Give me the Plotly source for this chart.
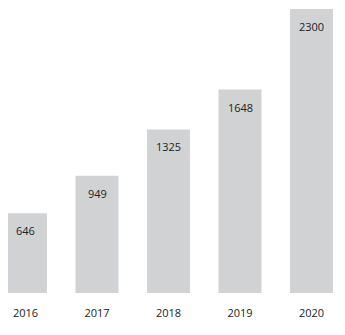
import plotly.graph_objects as go

years = ["2016", "2017", "2018", "2019", "2020"]
values = [646, 949, 1325, 1648, 2300]

fig = go.Figure()
fig.add_trace(go.Bar(
    x=years, y=values,
    marker=dict(color="#d1d2d4", line=dict(width=0)),
    width=0.6,
    hoverinfo="skip",
))

for i, v in enumerate(values):
    fig.add_annotation(
        x=i, y=v, text=str(v), showarrow=False,
        xref="x", yref="y",
        yanchor="top", yshift=-8,
        font=dict(family="Open Sans", size=11, color="#222222"),
    )

fig.update_layout(
    width=337, height=327,
    margin=dict(l=0, r=0, t=0, b=42, pad=0, autoexpand=False),
    paper_bgcolor="white", plot_bgcolor="white",
    showlegend=False,
    xaxis=dict(
        type="category",
        range=[-0.2448, 4.4685],
        automargin=False,
        showgrid=False, zeroline=False, showline=False,
        ticks="", ticklabelstandoff=12,
        tickfont=dict(family="Open Sans", size=11, color="#222222"),
    ),
    yaxis=dict(
        range=[0, 2308],
        automargin=False,
        showgrid=False, zeroline=False, showline=False,
        showticklabels=False, ticks="",
    ),
)

fig.write_html("out.html")
